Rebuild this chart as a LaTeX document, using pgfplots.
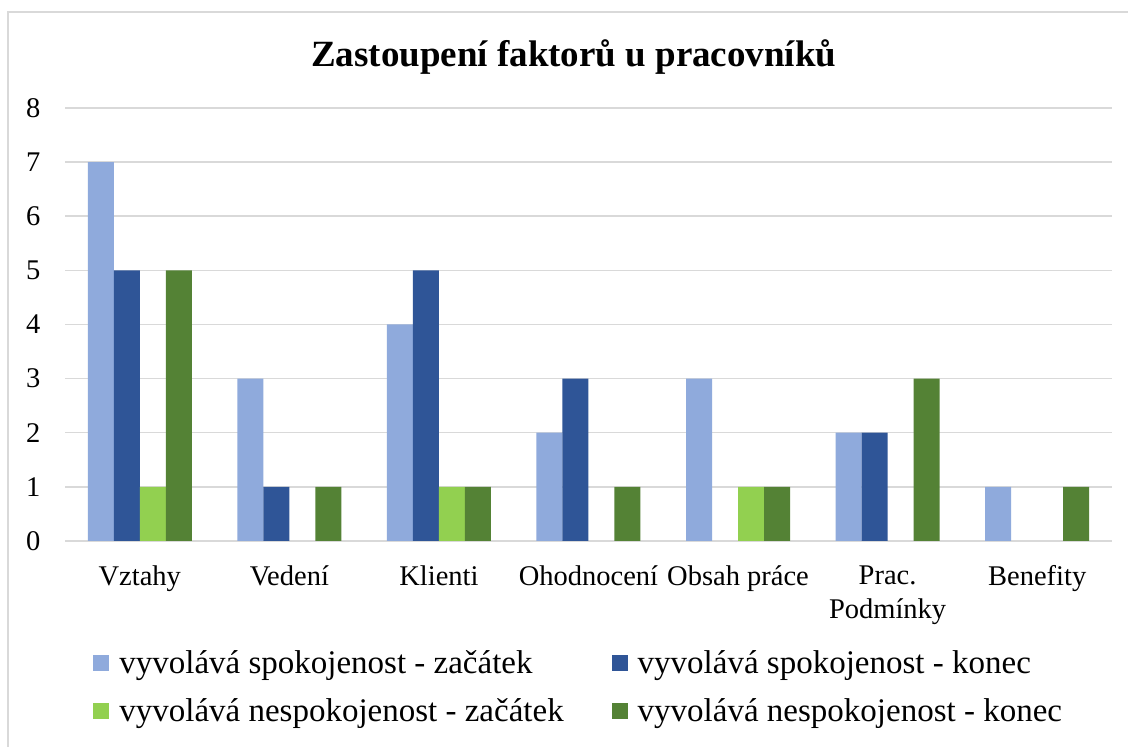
\documentclass[border=0pt]{standalone}
\usepackage{fontspec}
\setmainfont{Liberation Serif}
\usepackage{pgfplots}
\pgfplotsset{compat=1.18}
\definecolor{lb}{HTML}{8FAADC}
\definecolor{db}{HTML}{2F5597}
\definecolor{lg}{HTML}{92D050}
\definecolor{dg}{HTML}{548235}
\definecolor{gridgray}{HTML}{D9D9D9}
\begin{document}
\begin{tikzpicture}[x=1pt,y=1pt]
\useasboundingbox (0,0) rectangle (1128,747);
\fill[white] (0,0) rectangle (1128,747);
\draw[gridgray, line width=1.5pt] (8,-20) -- (8,735) -- (1150,735);
\begin{axis}[
  at={(65pt,206pt)}, anchor=south west,
  width=1047pt, height=433pt, scale only axis,
  ymin=0, ymax=8, ytick={0,...,8},
  xmin=-0.5, xmax=6.5,
  xtick={0,...,6},
  xticklabels={Vztahy,Vedení,Klienti,Ohodnocení,Obsah práce,{Prac.\\Podmínky},Benefity},
  axis line style={draw=none},
  major tick length=0pt,
  ymajorgrids, grid style={gridgray, line width=1.5pt},
  ybar=0pt, bar width=26pt,
  /pgf/number format/assume math mode=true,
  ticklabel style={font=\fontsize{28.5}{34}\selectfont},
  xticklabel style={align=center, yshift=-21pt},
  yticklabel style={xshift=-21pt},
  title={Zastoupení faktorů u pracovníků},
  title style={font=\bfseries\fontsize{37}{42}\selectfont, at={(0.486,1)}, anchor=center, yshift=45pt},
  legend columns=2,
  legend style={draw=none, fill=none, at={(0.024,-0.243)}, anchor=north west,
    font=\fontsize{33}{38}\selectfont,
    /tikz/every even column/.append style={column sep=46pt},
    row sep=20pt, cells={anchor=west}},
  legend image code/.code={\fill[#1] (0pt,-8pt) rectangle (16pt,8pt); \path (24pt,0pt);},
]
\addplot[fill=lb, draw=none] coordinates {(0,7) (1,3) (2,4) (3,2) (4,3) (5,2) (6,1)};
\addplot[fill=db, draw=none] coordinates {(0,5) (1,1) (2,5) (3,3) (5,2)};
\addplot[fill=lg, draw=none] coordinates {(0,1) (2,1) (4,1)};
\addplot[fill=dg, draw=none] coordinates {(0,5) (1,1) (2,1) (3,1) (4,1) (5,3) (6,1)};
\legend{vyvolává spokojenost - začátek, vyvolává spokojenost - konec, vyvolává nespokojenost - začátek, vyvolává nespokojenost - konec}
\end{axis}
\end{tikzpicture}
\end{document}
